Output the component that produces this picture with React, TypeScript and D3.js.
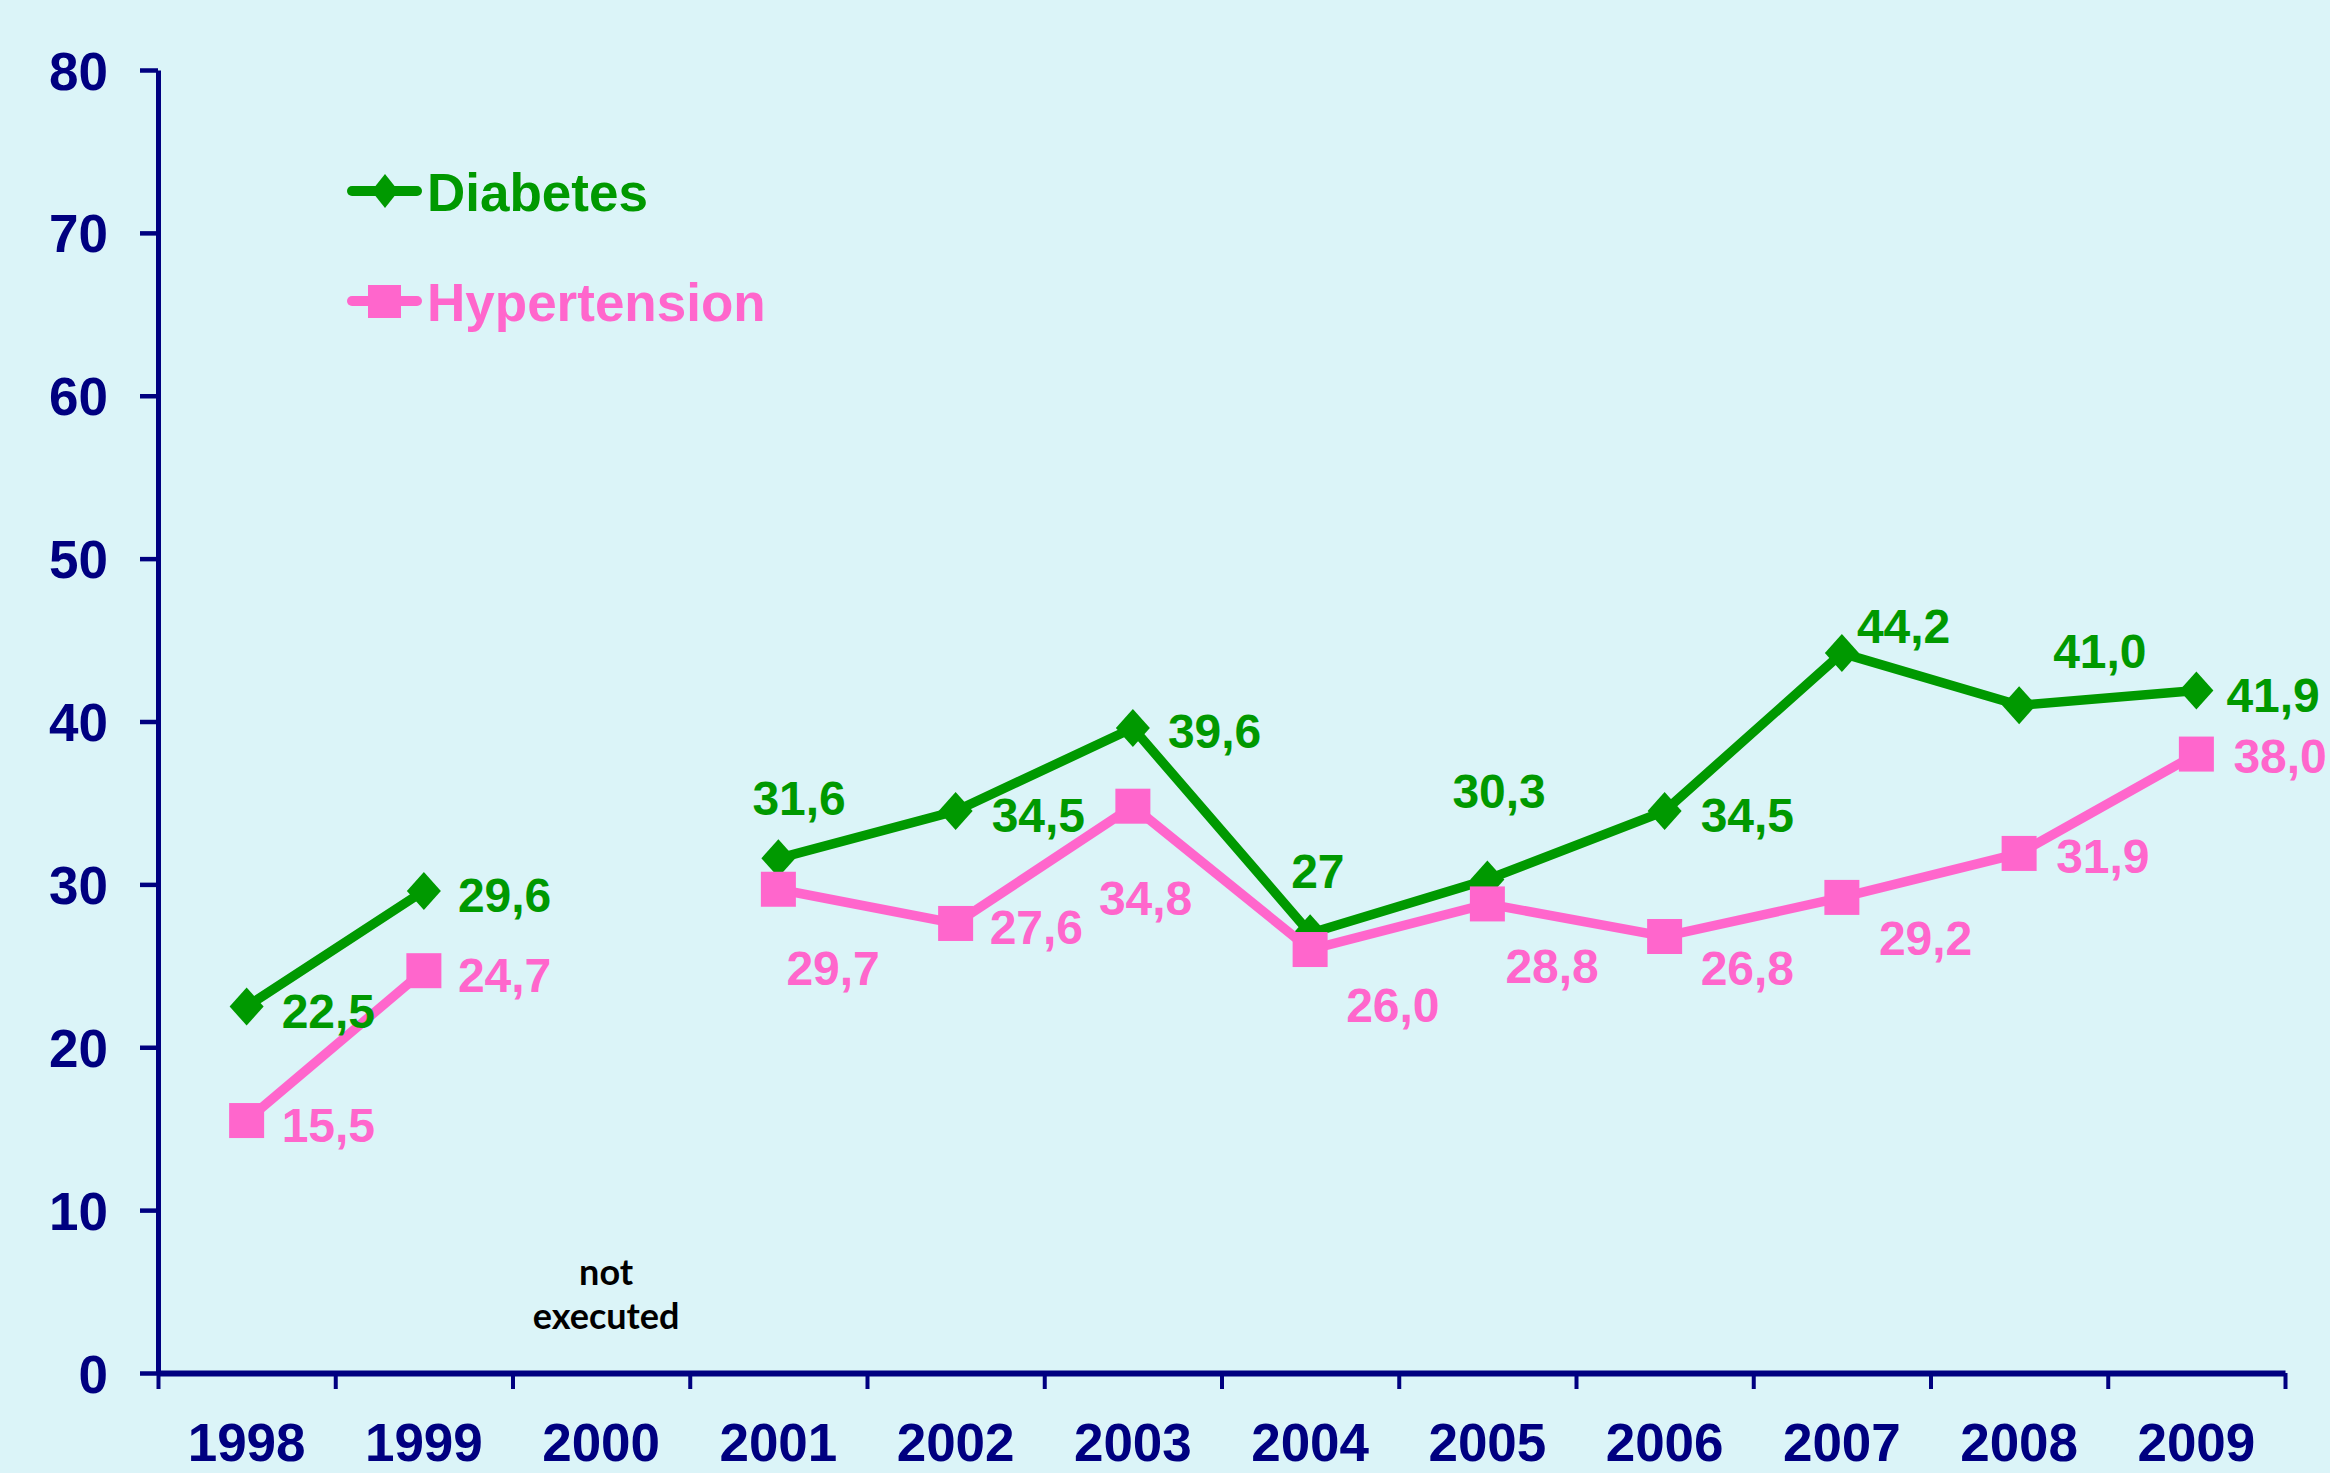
import * as d3 from 'd3';
import { useEffect, useRef } from 'react';

const years = ['1998', '1999', '2000', '2001', '2002', '2003', '2004', '2005', '2006', '2007', '2008', '2009'];
const diabetes: (number | null)[] = [22.5, 29.6, null, 31.6, 34.5, 39.6, 27, 30.3, 34.5, 44.2, 41.0, 41.9];
const hypertension: (number | null)[] = [15.5, 24.7, null, 29.7, 27.6, 34.8, 26.0, 28.8, 26.8, 29.2, 31.9, 38.0];
const diabetesLabels = ['22,5', '29,6', '', '31,6', '34,5', '39,6', '27', '30,3', '34,5', '44,2', '41,0', '41,9'];
const hypertensionLabels = ['15,5', '24,7', '', '29,7', '27,6', '34,8', '26,0', '28,8', '26,8', '29,2', '31,9', '38,0'];
const yTicks = [0, 10, 20, 30, 40, 50, 60, 70, 80];
const missingNote = ['not', 'executed'];

// where each value label sits relative to its marker: [dx to text start, dy to baseline]
const diabetesLabelPos = [[35, 21], [34, 21], [0, 0], [-26, -43], [36, 21], [35, 20], [-19, -45], [-35, -71], [36, 21], [15, -10], [34, -37], [30, 21]];
const hypertensionLabelPos = [[35, 21], [34, 21], [0, 0], [8, 96], [34, 21], [-34, 109], [36, 72], [18, 79], [36, 49], [37, 58], [37, 20], [37, 19]];

const WIDTH = 2330;
const HEIGHT = 1473;
const GREEN = '#009900';
const PINK = '#ff66cc';
const NAVY = '#000080';
const FONT = '"Liberation Sans", Arial, sans-serif';

const App = () => {
    const ref = useRef<SVGSVGElement | null>(null);

    useEffect(() => {
        if (!ref.current) return;
        const margin = { top: 70, right: 45, bottom: 100, left: 158 };
        const svg = d3.select(ref.current);
        svg.selectAll('*').remove();

        svg.append('rect')
            .attr('width', WIDTH)
            .attr('height', HEIGHT)
            .attr('fill', '#dbf4f8');

        const x = d3.scaleBand<string>()
            .domain(years)
            .range([margin.left, WIDTH - margin.right]);
        const xEdges = d3.scaleLinear()
            .domain([0, years.length])
            .range([margin.left, WIDTH - margin.right]);
        const y = d3.scaleLinear()
            .domain([0, 80])
            .range([HEIGHT - margin.bottom, margin.top]);
        const cx = (i: number) => (x(years[i]) as number) + x.bandwidth() / 2;

        // x axis: ticks on the category boundaries, labels centred below
        const xAxis = svg.append('g')
            .attr('transform', `translate(0,${HEIGHT - margin.bottom})`)
            .call(d3.axisBottom(xEdges).tickValues(d3.range(years.length + 1)).tickSize(16).tickSizeOuter(0).tickFormat(() => ''));
        xAxis.select('.domain').attr('stroke', NAVY).attr('stroke-width', 6);
        xAxis.selectAll('.tick line').attr('stroke', NAVY).attr('stroke-width', 4);

        svg.append('g')
            .selectAll('text')
            .data(years)
            .join('text')
            .attr('x', (d, i) => cx(i))
            .attr('y', HEIGHT - 12)
            .attr('text-anchor', 'middle')
            .attr('font-family', FONT)
            .attr('font-weight', 'bold')
            .attr('font-size', 53)
            .attr('fill', NAVY)
            .text(d => d);

        const yAxis = svg.append('g')
            .attr('transform', `translate(${margin.left},0)`)
            .call(d3.axisLeft(y).tickValues(yTicks).tickSize(18).tickSizeOuter(0).tickPadding(32));
        yAxis.select('.domain').attr('stroke', NAVY).attr('stroke-width', 5);
        yAxis.selectAll('.tick line').attr('stroke', NAVY).attr('stroke-width', 4.5);
        yAxis.selectAll('.tick text')
            .attr('dy', '0.36em')
            .attr('font-family', FONT)
            .attr('font-weight', 'bold')
            .attr('font-size', 53)
            .attr('fill', NAVY);

        // note under the missing year
        svg.append('g')
            .selectAll('text')
            .data(missingNote)
            .join('text')
            .attr('x', cx(2) + 5)
            .attr('y', (d, i) => 1285 + i * 44)
            .attr('text-anchor', 'middle')
            .attr('font-family', 'Lato, sans-serif')
            .attr('font-weight', 'bold')
            .attr('font-size', 36)
            .attr('fill', '#000')
            .text(d => d);

        const series = [
            { values: diabetes, labels: diabetesLabels, pos: diabetesLabelPos, color: GREEN, marker: 'diamond' },
            { values: hypertension, labels: hypertensionLabels, pos: hypertensionLabelPos, color: PINK, marker: 'square' },
        ];

        const line = d3.line<number | null>()
            .defined(d => d != null)
            .x((d, i) => cx(i))
            .y(d => y(d as number));

        series.forEach(s => {
            svg.append('path')
                .datum(s.values)
                .attr('fill', 'none')
                .attr('stroke', s.color)
                .attr('stroke-width', 9.5)
                .attr('d', line(s.values) as string);

            const pts = s.values.map((v, i) => ({ v, i })).filter(p => p.v != null);
            if (s.marker === 'diamond') {
                svg.append('g')
                    .selectAll('path')
                    .data(pts)
                    .join('path')
                    .attr('transform', p => `translate(${cx(p.i)},${y(p.v as number)})`)
                    .attr('d', 'M0,-19L17,0L0,19L-17,0Z')
                    .attr('fill', s.color);
            } else {
                svg.append('g')
                    .selectAll('rect')
                    .data(pts)
                    .join('rect')
                    .attr('x', p => cx(p.i) - 17.5)
                    .attr('y', p => y(p.v as number) - 17.5)
                    .attr('width', 35)
                    .attr('height', 35)
                    .attr('fill', s.color);
            }
        });

        series.forEach(s => {
            const pts = s.values.map((v, i) => ({ v, i })).filter(p => p.v != null);
            svg.append('g')
                .selectAll('text')
                .data(pts)
                .join('text')
                .attr('x', p => cx(p.i) + s.pos[p.i][0])
                .attr('y', p => y(p.v as number) + s.pos[p.i][1])
                .attr('font-family', FONT)
                .attr('font-weight', 'bold')
                .attr('font-size', 48)
                .attr('fill', s.color)
                .text(p => s.labels[p.i]);
        });

        // legend
        const legend = svg.append('g').attr('class', 'legend');
        const items = [
            { name: 'Diabetes', color: GREEN, marker: 'diamond', y: 191 },
            { name: 'Hypertension', color: PINK, marker: 'square', y: 301 },
        ];
        items.forEach(it => {
            legend.append('line')
                .attr('x1', 352)
                .attr('x2', 417)
                .attr('y1', it.y)
                .attr('y2', it.y)
                .attr('stroke', it.color)
                .attr('stroke-width', 10)
                .attr('stroke-linecap', 'round');
            if (it.marker === 'diamond') {
                legend.append('path')
                    .attr('transform', `translate(385,${it.y})`)
                    .attr('d', 'M0,-17L13.5,0L0,17L-13.5,0Z')
                    .attr('fill', it.color);
            } else {
                legend.append('rect')
                    .attr('x', 368)
                    .attr('y', it.y - 16)
                    .attr('width', 33)
                    .attr('height', 33)
                    .attr('fill', it.color);
            }
            legend.append('text')
                .attr('x', 427)
                .attr('y', it.y + 20)
                .attr('font-family', FONT)
                .attr('font-weight', 'bold')
                .attr('font-size', 53)
                .attr('fill', it.color)
                .text(it.name);
        });
    }, []);

    return (
        <div style={{ position: 'absolute', left: 0, top: 0 }}>
            <svg ref={ref} width={WIDTH} height={HEIGHT} style={{ display: 'block' }} />
        </div>
    );
};

export default App;
